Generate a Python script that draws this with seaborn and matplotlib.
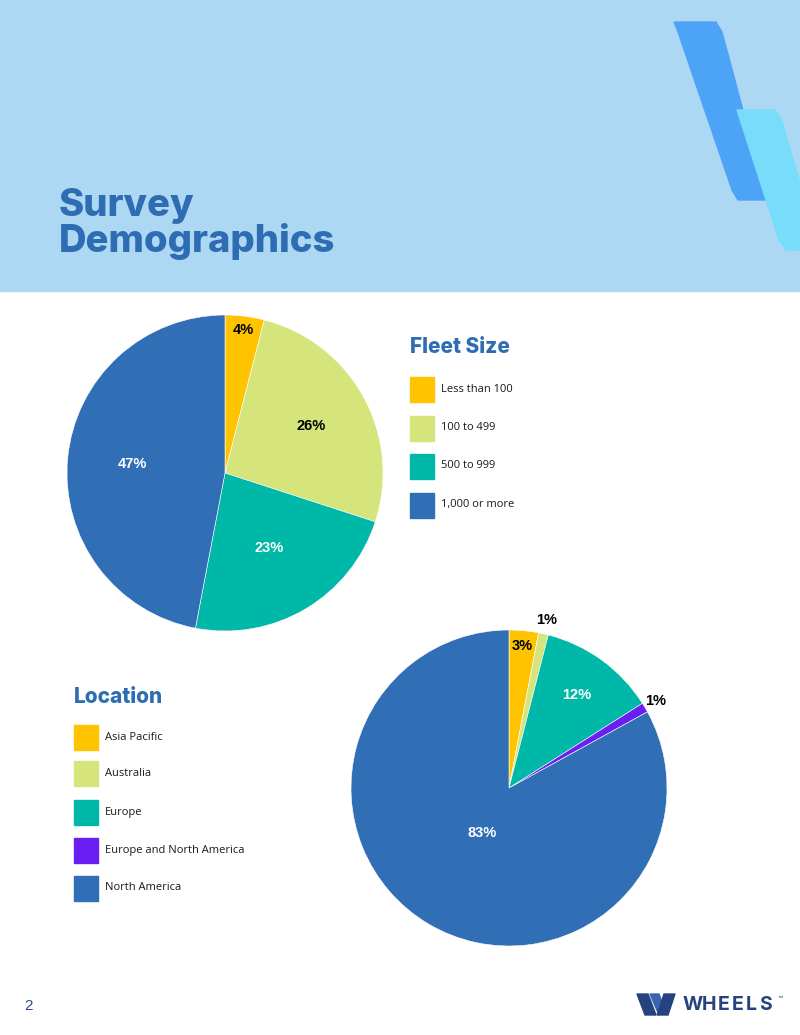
#!/usr/bin/env python3
import numpy as np
import seaborn as sns
import matplotlib.pyplot as plt
from matplotlib.patches import Rectangle, Polygon

fleet_labels = ['Less than 100', '100 to 499', '500 to 999', '1,000 or more']
fleet_pct = [4, 26, 23, 47]

location_labels = ['Asia Pacific', 'Australia', 'Europe', 'Europe and North America', 'North America']
location_pct = [3, 1, 12, 1, 83]

YELLOW, LIME, TEAL, PURPLE, BLUE = '#FFC300', '#D5E57B', '#00B8A7', '#6A1FF2', '#306EB5'
TITLE_BLUE = '#2E6DB4'
W, H = 800, 1035

sns.set_theme(style='white')
plt.rcParams['font.family'] = ['Liberation Sans', 'DejaVu Sans']

fig = plt.figure(figsize=(W / 100, H / 100), dpi=100)
fig.patch.set_facecolor('white')

# page layer in pixel coords
bg = fig.add_axes([0, 0, 1, 1])
bg.set_xlim(0, W)
bg.set_ylim(H, 0)
bg.axis('off')

bg.add_patch(Rectangle((0, 0), W, 291, color='#ADD8F3', zorder=0))
bg.add_patch(Polygon([(674, 22), (716, 22), (722, 32), (767, 200), (738, 200), (732, 190), (678, 32)],
                     closed=True, color='#4DA4F6', zorder=1))
bg.add_patch(Polygon([(737, 110), (775, 110), (781, 118), (805, 200), (805, 250), (786, 250), (779, 240)],
                     closed=True, color='#78DDFA', zorder=2))

head_font = ['Inter', 'DejaVu Sans']
bg.text(59, 216, 'Survey', fontsize=27.5, fontweight='heavy', color=TITLE_BLUE, family=head_font, va='baseline')
bg.text(59, 252, 'Demographics', fontsize=27.5, fontweight='heavy', color=TITLE_BLUE, family=head_font, va='baseline')


def pie_at(cx, cy, r, values, colors, label_r, label_c):
    ax = fig.add_axes([(cx - r) / W, 1 - (cy + r) / H, 2 * r / W, 2 * r / H])
    wedges, _ = ax.pie(values, colors=colors, startangle=90, counterclock=False,
                       wedgeprops=dict(edgecolor='white', linewidth=0.4))
    ax.set_xlim(-1, 1)
    ax.set_ylim(-1, 1)
    ax.set_aspect('equal')
    ax.axis('off')
    for w, v, lr, lc in zip(wedges, values, label_r, label_c):
        ang = np.deg2rad((w.theta1 + w.theta2) / 2)
        ax.text(lr * np.cos(ang), lr * np.sin(ang), f'{v}%', ha='center', va='center',
                fontsize=10.5, fontweight='bold', color=lc, clip_on=False)
    return ax


def legend_at(x, y_title, y_rows, title, labels, colors):
    bg.text(x, y_title, title, fontsize=15, fontweight='heavy', color=TITLE_BLUE,
            family=head_font, va='center')
    for yc, lab, col in zip(y_rows, labels, colors):
        bg.add_patch(Rectangle((x, yc - 12.5), 24, 25, color=col))
        bg.text(x + 31, yc, lab, fontsize=8, color='#1a1a1a', family=['Open Sans', 'DejaVu Sans'], va='center')


fleet_colors = sns.color_palette([YELLOW, LIME, TEAL, BLUE])
pie_at(225, 473, 158, fleet_pct, fleet_colors,
       [0.91, 0.62, 0.55, 0.59], ['black', 'black', 'white', 'white'])
legend_at(410, 347, [389, 428, 466, 505], 'Fleet Size', fleet_labels, fleet_colors)

loc_colors = sns.color_palette([YELLOW, LIME, TEAL, PURPLE, BLUE])
pie_at(509, 788, 158, location_pct, loc_colors,
       [0.90, 1.09, 0.73, 1.08, 0.33], ['black', 'black', 'white', 'black', 'white'])
legend_at(74, 697, [737, 773, 812, 850, 888], 'Location', location_labels, loc_colors)

# footer
bg.text(24, 1006, '2', fontsize=11, color='#2F4A8C', va='center')
navy = '#26427F'
bg.add_patch(Polygon([(637, 994), (648, 994), (656, 1015), (645, 1015)], closed=True, color=navy))
bg.add_patch(Polygon([(650, 994), (659, 994), (664, 1008), (659, 1015)], closed=True, color='#3C63B0'))
bg.add_patch(Polygon([(664, 994), (675, 994), (668, 1015), (657, 1015)], closed=True, color=navy))
for i, ch in enumerate('WHEELS'):
    bg.text(683 + [0, 19, 35, 49, 63, 76][i], 1005, ch, fontsize=14, fontweight='bold',
            color=navy, va='center', family=head_font)
bg.text(777, 998, '™', fontsize=4, color=navy, va='center')

fig.savefig('out.png', dpi=100)
